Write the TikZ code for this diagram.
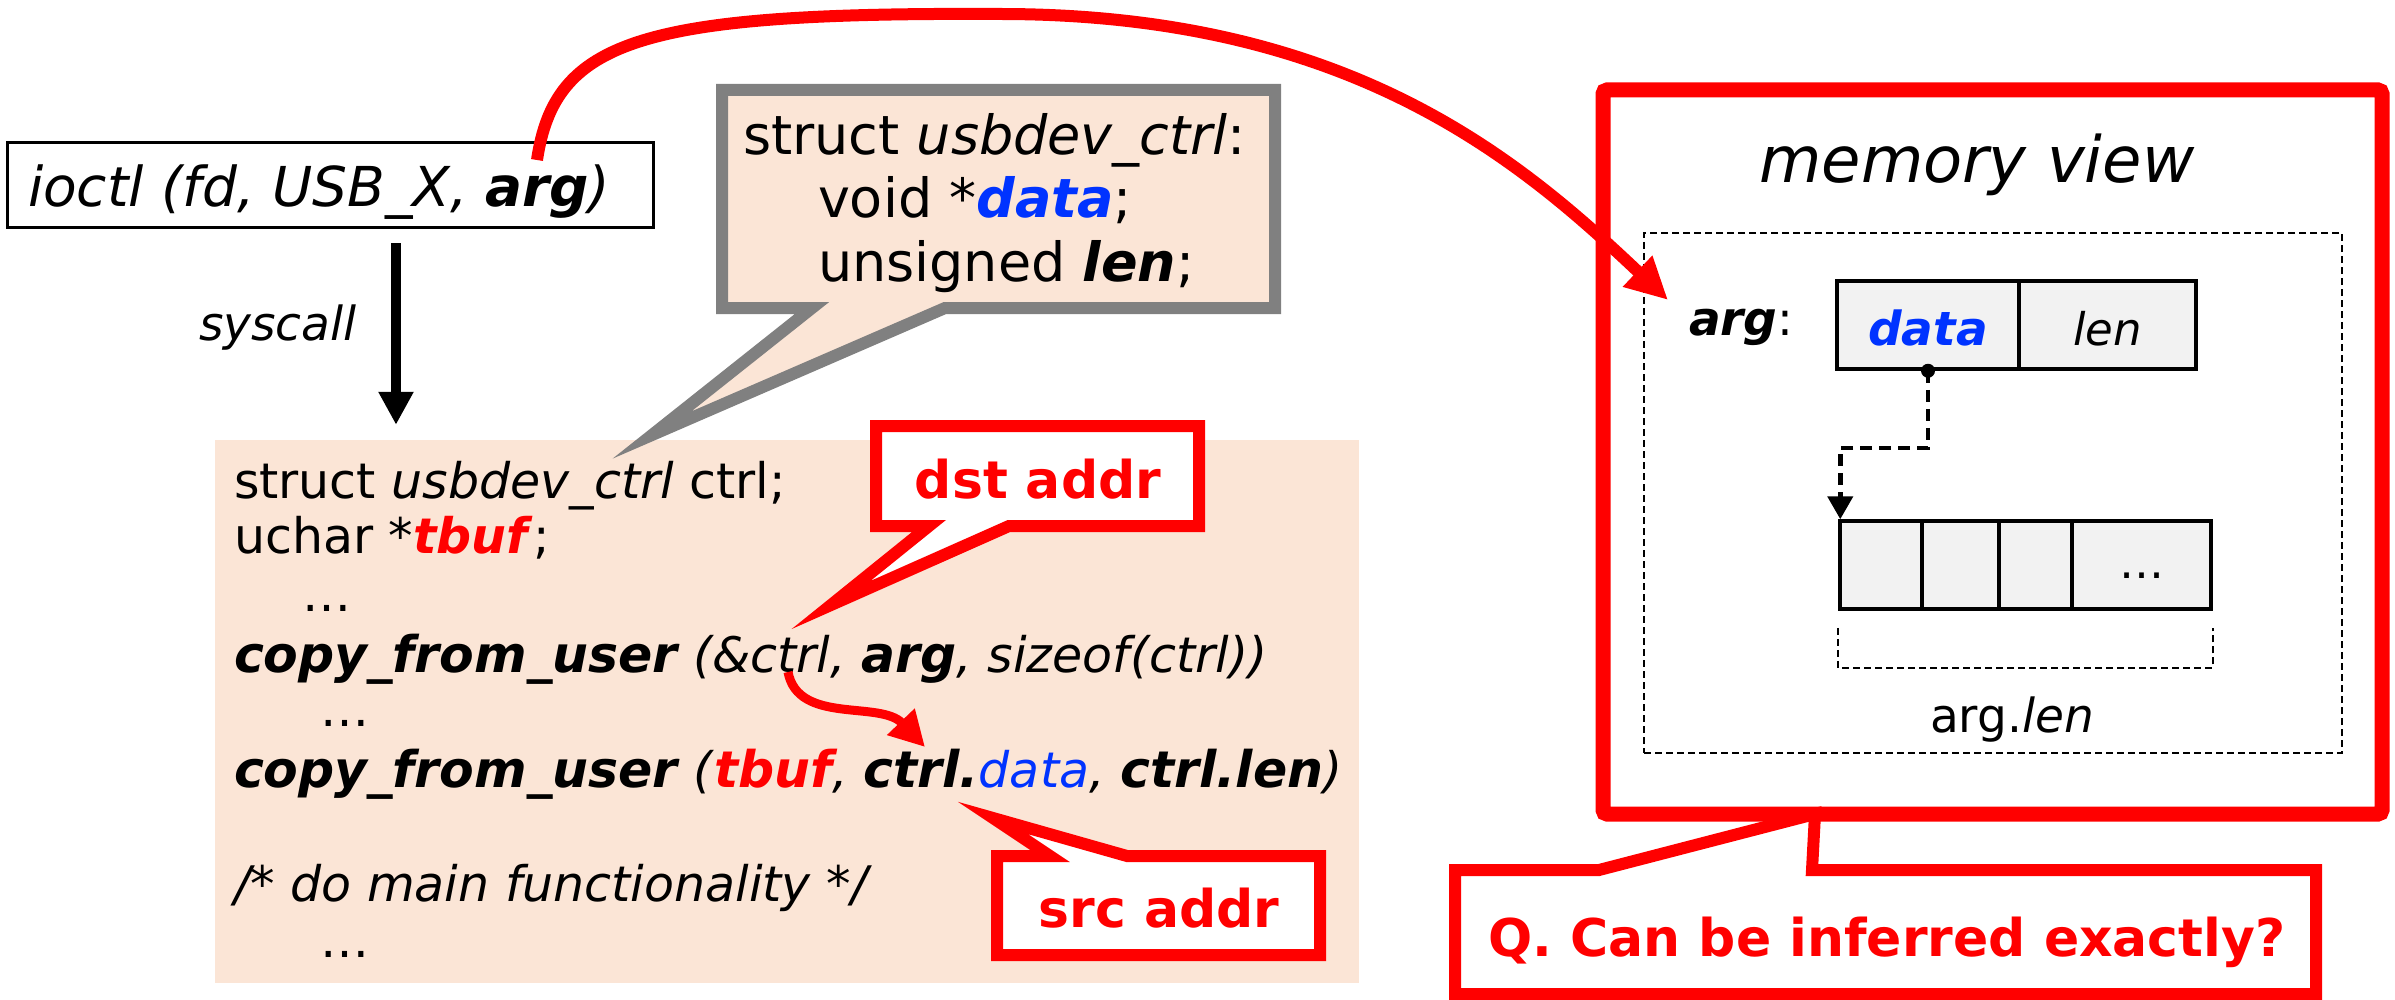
\documentclass[tikz,border=0pt]{standalone}
\usepackage{fontspec}
\setmainfont{DejaVu Sans}
\usetikzlibrary{arrows.meta}
\definecolor{beige}{RGB}{251,229,214}
\definecolor{dblue}{RGB}{0,51,255}
\definecolor{cellgray}{RGB}{242,242,242}
\definecolor{cgray}{RGB}{128,128,128}
\newcommand\fsz[1]{\fontsize{#1}{#1}\selectfont}
\newcommand\bi[1]{\textbf{\textit{#1}}}
\newcommand\cbi[1]{{\fsz{50.5}\bfseries\itshape #1}}
\tikzset{
  txt/.style={inner sep=0pt, outer sep=0pt},
  codeline/.style={txt, anchor=base west, font=\fsz{49}},
  calltxt/.style={txt, anchor=base west, font=\fsz{54}},
  redcall/.style={draw=red, fill=white, line width=12pt, line join=miter, miter limit=25},
  graycall/.style={draw=cgray, fill=beige, line width=12pt, line join=miter, miter limit=25},
  redlbl/.style={txt, anchor=base, font=\fsz{52}\bfseries, text=red},
  cell/.style={draw=black, fill=cellgray, line width=3.5pt, minimum height=88pt, inner sep=0pt},
  memtxt/.style={txt, anchor=base, font=\fsz{45}},
  sysarrow/.style={draw=black, line width=10pt, -{Triangle[length=33pt,width=33pt]}},
  ptr/.style={draw=black, line width=4.5pt, dash pattern=on 12pt off 7pt, -{Triangle[length=23pt,width=25pt]}},
  thindash/.style={draw=black, line width=2pt, dash pattern=on 7pt off 4pt},
  redarc/.style={draw=red, line width=12pt, -{Triangle[length=42pt,width=40pt]}},
  redsmall/.style={draw=red, line width=9pt, -{Triangle[length=35pt,width=36pt]}}
}
\begin{document}
\begin{tikzpicture}[x=1pt,y=-1pt]
\useasboundingbox (0,0) rectangle (2395,1000);
\fill[white] (0,0) rectangle (2395,1000);

% code box
\node[fill=beige, minimum width=1144pt, minimum height=543pt, inner sep=0pt] (code) at (787,711.5) {};

% struct callout
\draw[graycall] (722,90) -- (1275,90) -- (1275,308) -- (945,308) -- (652,435) -- (812,308) -- (722,308) -- cycle;
\node[calltxt] (s1) at (743,155) {struct \textit{usbdev\_ctrl}:};
\node[calltxt] (s2) at (818,218) {void *\textcolor{dblue}{\bi{data}};};
\node[calltxt] (s3) at (818,282) {unsigned \bi{len};};

% dst / src callouts
\draw[redcall] (929,526) -- (876,526) -- (876,426) -- (1199,426) -- (1199,526) -- (1009,526) -- (831,605) -- cycle;
\node[redlbl] (dst) at (1038,498) {dst addr};
\draw[redcall] (1050,856) -- (993,818) -- (1127,856) -- (1320,856) -- (1320,955) -- (997,955) -- (997,856) -- cycle;
\node[redlbl] (src) at (1159,927) {src addr};

% code lines
\node[codeline] (l1) at (234,498) {struct \textit{usbdev\_ctrl} ctrl;};
\node[codeline] (l2) at (234,553) {uchar *\textcolor{red}{\bi{tbuf}};};
\node[codeline] (d1) at (302,611) {…};
\node[codeline] (l4) at (234,672) {\cbi{copy\_from\_user} \textit{(\&ctrl, }\cbi{arg}\textit{, sizeof(ctrl))}};
\node[codeline] (d2) at (320,726) {…};
\node[codeline] (l6) at (234,787) {\cbi{copy\_from\_user} \textit{(}\textcolor{red}{\cbi{tbuf}}\textit{, }\cbi{ctrl.}\textcolor{dblue}{\textit{data}}\textit{, }\cbi{ctrl.len}\textit{)}};
\node[codeline] (l7) at (234,901) {\textit{/* do main functionality */}};
\node[codeline] (d3) at (320,957) {…};

% small red arrow
\coordinate (ampctrl) at (788,672);
\coordinate (ctrldot) at (925,747);
\draw[redsmall] (ampctrl) .. controls (798,725) and (880,700) .. (ctrldot);

% ioctl box
\node[draw=black, line width=3pt, minimum width=646pt, minimum height=85pt, inner sep=0pt] (ioctl) at (330,185.5) {};
\node[txt, anchor=base west, font=\fsz{55}] (ioctltxt) at (28,207) {\textit{ioctl (fd, USB\_X, }\bi{arg}\textit{)}};
\draw[sysarrow] ([shift={(66pt,-14pt)}]ioctl.south) -- ([shift={(-391pt,15pt)}]code.north);
\node[txt, anchor=base west, font=\fsz{47}] (sys) at (199,340) {\textit{syscall}};

% Q callout
\draw[redcall] (1599,870) -- (1455,870) -- (1455,994) -- (2316,994) -- (2316,870) -- (1812,870) -- (1815,814) -- cycle;
\node[redlbl] (q) at (1887,956) {Q. Can be inferred exactly?};

% memory view
\node[draw=red, line width=15pt, rounded corners=4pt, minimum width=779pt, minimum height=724pt, inner sep=0pt] (mem) at (1992.5,452) {};
\node[txt, anchor=base, font=\fsz{64}] (mvt) at (1977,183) {\textit{memory view}};
\node[thindash, minimum width=698pt, minimum height=520pt, inner sep=0pt] (dbox) at (1993,493) {};
\node[txt, anchor=base west, font=\fsz{47}] (argl) at (1689,335) {\bi{arg}:};
\node[cell, minimum width=182pt] (cdata) at (1928,325) {};
\node[cell, minimum width=177pt] (clen) at (2107.5,325) {};
\node[memtxt, font=\fsz{47}] at (cdata.center |- 0,345) {\textcolor{dblue}{\bi{data}}};
\node[memtxt] at (clen.center |- 0,345) {\textit{len}};
\node[cell, minimum width=82pt] (b1) at (1881,565) {};
\node[cell, minimum width=77pt] (b2) at (1960.5,565) {};
\node[cell, minimum width=73pt] (b3) at (2035.5,565) {};
\node[cell, minimum width=139pt] (b4) at (2141.5,565) {};
\node[memtxt] at (b4.center |- 0,578) {…};
\fill[black] (cdata.south) circle (7);
\draw[ptr] (cdata.south) -- ++(0,77) -| ([xshift=2pt]b1.north west);
\draw[thindash] ([yshift=-17pt]b1.south west) -- ([yshift=-57pt]b1.south west) -- ([yshift=-57pt]b4.south east) -- ([yshift=-17pt]b4.south east);
\node[txt, anchor=base, font=\fsz{47}] (arglen) at (2012,732) {arg.\textit{len}};

% big red arc
\coordinate (argsrc) at (537,160);
\coordinate (argdst) at (1668,300);
\draw[redarc] (argsrc) .. controls (555,40) and (640,12) .. (1000,14) .. controls (1350,14) and (1520,160) .. (argdst);
\end{tikzpicture}
\end{document}
